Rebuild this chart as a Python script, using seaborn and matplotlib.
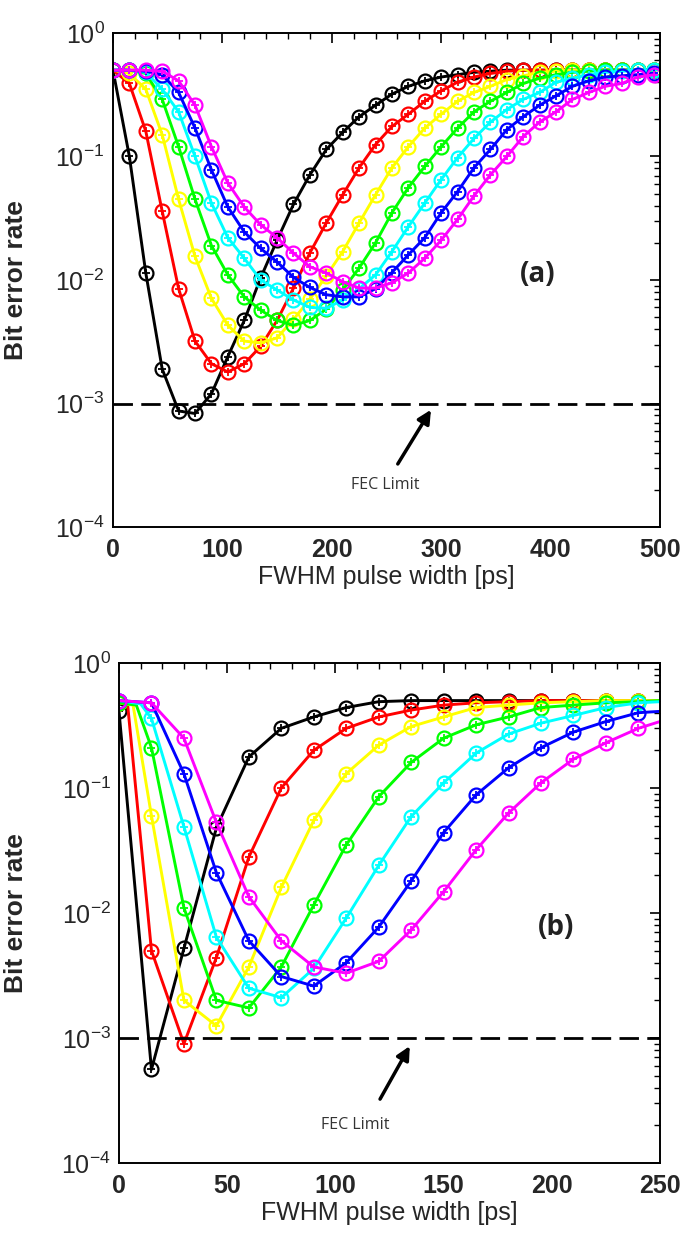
import numpy as np
import pandas as pd
import seaborn as sns
import matplotlib.pyplot as plt
from matplotlib.ticker import LogLocator, MultipleLocator, NullFormatter

# panel (a): markers every 15 ps
x_a = list(range(0, 496, 15))
a_black = [0.5, 0.1, 0.0114, 1.9e-3, 8.7e-4, 8.3e-4, 1.2e-3, 2.4e-3, 4.7e-3, 0.0104, 0.021, 0.041,
           0.071, 0.114, 0.157, 0.21, 0.26, 0.32, 0.37, 0.41, 0.44, 0.46, 0.48, 0.49,
           0.5, 0.5, 0.5, 0.5, 0.5, 0.5, 0.5, 0.5, 0.5, 0.5]
a_red = [0.5, 0.39, 0.16, 0.036, 8.5e-3, 3.2e-3, 2.1e-3, 1.8e-3, 2.1e-3, 2.9e-3, 4.7e-3, 8.6e-3,
         0.0166, 0.029, 0.049, 0.081, 0.125, 0.175, 0.22, 0.28, 0.34, 0.40, 0.44, 0.47,
         0.49, 0.5, 0.5, 0.5, 0.5, 0.5, 0.5, 0.5, 0.5, 0.5]
a_yellow = [0.5, 0.47, 0.35, 0.15, 0.045, 0.0155, 7.1e-3, 4.3e-3, 3.2e-3, 3.1e-3, 3.4e-3, 4.8e-3,
            7.0e-3, 0.0108, 0.017, 0.029, 0.049, 0.081, 0.12, 0.17, 0.22, 0.28, 0.33, 0.37,
            0.42, 0.45, 0.48, 0.49, 0.5, 0.5, 0.5, 0.5, 0.5, 0.5]
a_green = [0.5, 0.5, 0.47, 0.29, 0.12, 0.045, 0.019, 0.011, 7.3e-3, 5.7e-3, 4.7e-3, 4.3e-3,
           4.7e-3, 5.8e-3, 8.3e-3, 0.0125, 0.020, 0.035, 0.056, 0.083, 0.12, 0.17, 0.23, 0.28,
           0.33, 0.39, 0.43, 0.46, 0.48, 0.49, 0.5, 0.5, 0.5, 0.5]
a_cyan = [0.5, 0.5, 0.48, 0.35, 0.23, 0.10, 0.042, 0.022, 0.015, 0.010, 8.3e-3, 6.9e-3,
          6.0e-3, 5.9e-3, 6.9e-3, 8.5e-3, 0.011, 0.017, 0.027, 0.042, 0.065, 0.098, 0.14, 0.19,
          0.24, 0.29, 0.33, 0.40, 0.43, 0.46, 0.48, 0.49, 0.5, 0.5]
a_blue = [0.5, 0.5, 0.49, 0.46, 0.33, 0.17, 0.078, 0.039, 0.0245, 0.018, 0.014, 0.0105,
          8.7e-3, 7.6e-3, 7.3e-3, 7.3e-3, 8.5e-3, 0.0115, 0.016, 0.022, 0.035, 0.052, 0.081, 0.114,
          0.165, 0.21, 0.26, 0.31, 0.37, 0.41, 0.44, 0.45, 0.46, 0.47]
a_magenta = [0.5, 0.5, 0.5, 0.49, 0.41, 0.26, 0.12, 0.061, 0.039, 0.028, 0.022, 0.0165,
             0.0128, 0.0114, 9.7e-3, 8.6e-3, 8.6e-3, 9.5e-3, 0.0114, 0.015, 0.021, 0.031, 0.048, 0.071,
             0.10, 0.145, 0.19, 0.23, 0.29, 0.33, 0.37, 0.39, 0.44, 0.46]

# panel (b): markers every 15 ps up to 240, line runs on to 250
x_b = list(range(0, 241, 15))
b_black = [0.41, 5.6e-4, 5.2e-3, 0.048, 0.177, 0.30, 0.37, 0.44, 0.49, 0.5, 0.5, 0.5, 0.5, 0.5, 0.5, 0.5, 0.5]
b_red = [0.48, 5.0e-3, 9.0e-4, 4.4e-3, 0.028, 0.10, 0.20, 0.30, 0.37, 0.42, 0.46, 0.48, 0.49, 0.5, 0.5, 0.5, 0.5]
b_yellow = [0.48, 0.06, 2.0e-3, 1.25e-3, 3.7e-3, 0.016, 0.055, 0.13, 0.22, 0.31, 0.37, 0.44, 0.46, 0.48, 0.49, 0.5, 0.5]
b_green = [0.48, 0.21, 0.011, 2.0e-3, 1.74e-3, 3.7e-3, 0.0116, 0.035, 0.085, 0.16, 0.25, 0.32, 0.37, 0.44, 0.46, 0.48, 0.49]
b_cyan = [0.5, 0.36, 0.049, 6.4e-3, 2.5e-3, 2.1e-3, 3.6e-3, 9.1e-3, 0.024, 0.059, 0.11, 0.19, 0.27, 0.33, 0.38, 0.44, 0.48]
b_blue = [0.5, 0.48, 0.13, 0.021, 6.0e-3, 3.1e-3, 2.6e-3, 4.0e-3, 7.7e-3, 0.018, 0.044, 0.088, 0.145, 0.21, 0.28, 0.34, 0.40]
b_magenta = [0.5, 0.48, 0.25, 0.053, 0.0135, 6.0e-3, 3.7e-3, 3.3e-3, 4.1e-3, 7.3e-3, 0.0148, 0.032, 0.063, 0.11, 0.17, 0.23, 0.30]
b_end = [0.5, 0.5, 0.5, 0.5, 0.49, 0.41, 0.34]  # line values at 250 ps
# extra line point where the curve leaves the 0.5 plateau (no marker there)
b_knee_x = [None, 4, 6.5, 8, 10, None, None]
b_knee_y = [None, 0.46, 0.46, 0.46, 0.47, None, None]

colors = ['black', '#ff0000', '#ffff00', '#00ff00', '#00ffff', '#0000ff', '#ff00ff']
fec = 1e-3

sns.set_theme(style='white')
plt.rcParams['font.family'] = ['Liberation Sans', 'DejaVu Sans']
plt.rcParams['mathtext.default'] = 'regular'
plt.rcParams['axes.unicode_minus'] = False


def draw_curves(ax, xm, series, xl=None, ends=None, kx=None, ky=None):
    for i, (y, c) in enumerate(zip(series, colors)):
        lx, ly = list(xm), list(y)
        if xl is not None:
            lx.append(xl)
            ly.append(ends[i])
        if kx is not None and kx[i] is not None:
            lx.append(kx[i])
            ly.append(ky[i])
        df = pd.DataFrame({'x': lx, 'ber': ly}).sort_values('x')
        sns.lineplot(data=df, x='x', y='ber', color=c, lw=2.1, ax=ax, estimator=None)
        ax.plot(xm, y, 'o', mfc='none', mec=c, ms=10, mew=1.6)
        ax.plot(xm, y, '+', color=c, ms=6, mew=1.3)


def style_axes(ax, xmax, xmaj, xmin):
    ax.set_yscale('log')
    ax.set_ylim(1e-4, 1)
    ax.set_xlim(0, xmax)
    ax.xaxis.set_major_locator(MultipleLocator(xmaj))
    ax.xaxis.set_minor_locator(MultipleLocator(xmin))
    ax.yaxis.set_major_locator(LogLocator(base=10, numticks=10))
    ax.yaxis.set_minor_locator(LogLocator(base=10, subs=np.arange(2, 10), numticks=20))
    ax.yaxis.set_minor_formatter(NullFormatter())
    ax.tick_params(which='both', direction='in', top=True, right=True, color='black')
    ax.tick_params(which='major', length=7, width=1.2)
    ax.tick_params(which='minor', length=4, width=1.0)
    ax.tick_params(axis='y', labelsize=18, pad=6)
    ax.tick_params(axis='x', labelsize=18, pad=8)
    for lab in ax.get_xticklabels():
        lab.set_fontweight('bold')
    for s in ax.spines.values():
        s.set_color('black')
        s.set_linewidth(1.4)
    ax.axhline(fec, color='black', lw=2, ls=(0, (7, 3)))
    ax.set_xlabel('FWHM pulse width [ps]', fontsize=18, labelpad=2)
    ax.set_ylabel('Bit error rate', fontsize=19, fontweight='bold')


fig = plt.figure(figsize=(7, 12.45), dpi=100)
ax1 = fig.add_axes([0.1614, 0.5767, 0.7814, 0.3968])
ax2 = fig.add_axes([0.170, 0.0659, 0.7729, 0.4016])

draw_curves(ax1, x_a, [a_black, a_red, a_yellow, a_green, a_cyan, a_blue, a_magenta])
style_axes(ax1, 500, 100, 20)
ax1.yaxis.set_label_coords(-0.155, 0.5)
ax1.annotate('', xy=(292, 9.3e-4), xytext=(259, 3.1e-4),
             arrowprops=dict(arrowstyle='-|>', lw=2.5, color='black', mutation_scale=20))
ax1.text(249, 2.2e-4, 'FEC Limit', ha='center', va='center', fontsize=11.5,
         family=['Open Sans', 'DejaVu Sans'], color='#333333')
ax1.text(388, 0.011, '(a)', ha='center', va='center', fontsize=20, fontweight='bold',
         family=['Open Sans', 'DejaVu Sans'], color='#222222')

draw_curves(ax2, x_b, [b_black, b_red, b_yellow, b_green, b_cyan, b_blue, b_magenta], 250, b_end,
            b_knee_x, b_knee_y)
style_axes(ax2, 250, 50, 10)
ax2.yaxis.set_label_coords(-0.168, 0.5)
ax2.annotate('', xy=(135, 9.0e-4), xytext=(120, 3.1e-4),
             arrowprops=dict(arrowstyle='-|>', lw=2.5, color='black', mutation_scale=20))
ax2.text(109, 2.0e-4, 'FEC Limit', ha='center', va='center', fontsize=11.5,
         family=['Open Sans', 'DejaVu Sans'], color='#333333')
ax2.text(202, 7.6e-3, '(b)', ha='center', va='center', fontsize=20, fontweight='bold',
         family=['Open Sans', 'DejaVu Sans'], color='#222222')

fig.savefig('out.png', dpi=100)
